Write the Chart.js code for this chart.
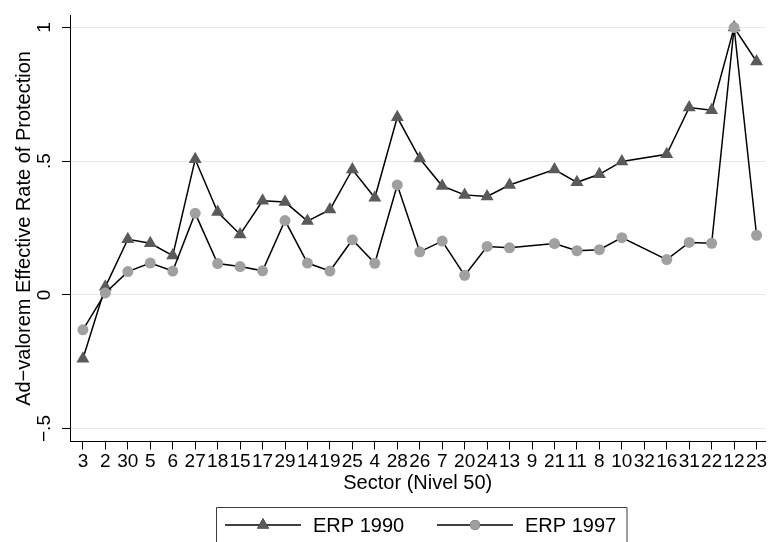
<!DOCTYPE html>
<html>
<head>
<meta charset="utf-8">
<script src="https://cdn.jsdelivr.net/npm/chart.js@4"></script>
<style>
  html, body { margin: 0; padding: 0; background: #fff; }
  #wrap { width: 773px; height: 542px; }
</style>
</head>
<body>
<div id="wrap"><canvas id="c" width="773" height="542"></canvas></div>
<script>
// Sectors (Nivel 50) in plotting order along the x axis
const sectors = ['3','2','30','5','6','27','18','15','17','29','14','19','25','4','28','26','7','20','24','13','9','21','11','8','10','32','16','31','22','12','23'];

// Ad-valorem effective rate of protection by sector (null = no observation)
const erp1990 = [-0.239, 0.030, 0.208, 0.193, 0.147, 0.507, 0.310, 0.226, 0.352, 0.347, 0.276, 0.319, 0.469, 0.363, 0.664, 0.510, 0.407, 0.374, 0.368, 0.411, null, 0.469, 0.421, 0.451, 0.499, null, 0.526, 0.701, 0.691, 1.000, 0.873];
const erp1997 = [-0.131, 0.007, 0.087, 0.119, 0.089, 0.305, 0.117, 0.106, 0.090, 0.278, 0.119, 0.089, 0.206, 0.118, 0.411, 0.161, 0.201, 0.073, 0.181, 0.176, null, 0.192, 0.165, 0.169, 0.214, null, 0.132, 0.196, 0.193, 1.000, 0.223];

// y-axis tick values and their labels
const yTickValues = [-0.5, 0, 0.5, 1];
const yTickLabels = ['\u2212.5', '0', '.5', '1'];

const FONT = '"Liberation Sans", Arial, Helvetica, sans-serif';

const toPoints = arr => arr.map((v, i) => ({ x: i, y: v }));

// Boxed legend below the plot: line segment with the series marker, then its label
const boxLegend = {
  id: 'boxLegend',
  afterDraw(chart) {
    const ctx = chart.ctx;
    const ds = chart.data.datasets.slice().sort((a, b) => a.legendIndex - b.legendIndex);
    const boxL = 216.5, boxT = 507.5, boxR = 627, y = 525;
    ctx.save();
    ctx.strokeStyle = '#3c3c3c';
    ctx.lineWidth = 1;
    ctx.beginPath();
    ctx.moveTo(boxL, 560); ctx.lineTo(boxL, boxT); ctx.lineTo(boxR, boxT); ctx.lineTo(boxR, 560);
    ctx.stroke();
    const starts = [225, 437];
    ds.forEach((d, k) => {
      const x0 = starts[k], x1 = x0 + 76, xm = (x0 + x1) / 2;
      ctx.strokeStyle = '#000';
      ctx.lineWidth = 1.5;
      ctx.beginPath(); ctx.moveTo(x0, y); ctx.lineTo(x1, y); ctx.stroke();
      Chart.helpers.drawPoint(ctx, {
        pointStyle: d.pointStyle, radius: d.legendRadius, rotation: 0, borderWidth: 0
      }, xm, y);
      ctx.fillStyle = d.pointBackgroundColor;
      ctx.fill();
      ctx.fillStyle = '#000';
      ctx.font = '20px ' + FONT;
      ctx.textBaseline = 'middle';
      ctx.textAlign = 'left';
      ctx.fillText(d.label, x1 + 12, y + 1);
    });
    ctx.restore();
  }
};

new Chart(document.getElementById('c'), {
  type: 'line',
  data: {
    datasets: [
      {
        label: 'ERP 1990',
        data: toPoints(erp1990),
        legendIndex: 0,
        order: 2,
        borderColor: '#000',
        borderWidth: 1.5,
        pointStyle: 'triangle',
        pointRadius: 7.5,
        legendRadius: 7,
        pointBackgroundColor: '#5a5a5a',
        pointBorderColor: '#5a5a5a',
        pointBorderWidth: 0,
        spanGaps: true,
        tension: 0
      },
      {
        label: 'ERP 1997',
        data: toPoints(erp1997),
        legendIndex: 1,
        order: 1,
        borderColor: '#000',
        borderWidth: 1.5,
        pointStyle: 'circle',
        pointRadius: 5.5,
        legendRadius: 5,
        pointBackgroundColor: '#a0a0a0',
        pointBorderColor: '#a0a0a0',
        pointBorderWidth: 0,
        spanGaps: true,
        tension: 0
      }
    ]
  },
  options: {
    responsive: false,
    animation: false,
    events: [],
    layout: { padding: { top: 10, right: 3, bottom: 38.5, left: 0 } },
    plugins: {
      legend: { display: false },
      tooltip: { enabled: false }
    },
    scales: {
      x: {
        type: 'linear',
        min: -0.575,
        max: 30.398,
        afterBuildTicks(scale) {
          scale.ticks = sectors.map((s, i) => ({ value: i }));
        },
        afterFit(scale) { scale.height = 62; },
        ticks: {
          autoSkip: false,
          maxRotation: 0,
          minRotation: 0,
          padding: 1,
          color: '#000',
          font: { family: FONT, size: 19 },
          callback: (v) => sectors[v]
        },
        grid: {
          drawOnChartArea: false,
          drawTicks: true,
          tickLength: 8,
          tickColor: '#000',
          tickWidth: 1
        },
        border: { display: true, color: '#000', width: 1 },
        title: {
          display: true,
          text: 'Sector (Nivel 50)',
          color: '#000',
          font: { family: FONT, size: 20 },
          padding: { top: 0, bottom: 8 }
        }
      },
      y: {
        type: 'linear',
        min: -0.5486,
        max: 1.0454,
        afterBuildTicks(scale) {
          scale.ticks = yTickValues.map(v => ({ value: v }));
        },
        afterFit(scale) { scale.width = 70; },
        ticks: {
          minRotation: 90,
          maxRotation: 90,
          crossAlign: 'center',
          padding: 4,
          color: '#000',
          font: { family: FONT, size: 19 },
          callback: (v) => yTickLabels[yTickValues.indexOf(v)]
        },
        grid: {
          color: '#e6e6e6',
          lineWidth: 1,
          drawTicks: true,
          tickLength: 8,
          tickColor: '#000'
        },
        border: { display: true, color: '#000', width: 1 },
        title: {
          display: true,
          text: 'Ad\u2212valorem Effective Rate of Protection',
          color: '#000',
          font: { family: FONT, size: 20 },
          padding: { top: 12, bottom: 0 }
        }
      }
    }
  },
  plugins: [boxLegend]
});
</script>
</body>
</html>
